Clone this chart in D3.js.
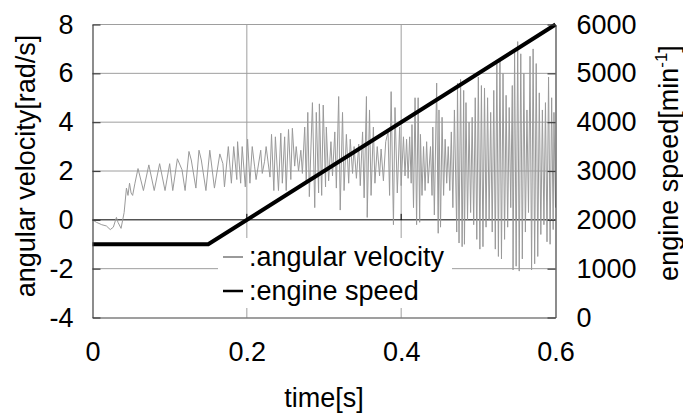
<!DOCTYPE html>
<html>
<head>
<meta charset="utf-8">
<script src="https://cdn.jsdelivr.net/npm/d3@7"></script>
<style>
  body { margin: 0; background: #fff; }
  text { font-family: "Liberation Sans", Arial, sans-serif; fill: #000; }
</style>
</head>
<body>
<svg id="chart" width="683" height="414"></svg>
<script>
// Axis ticks
const timeTicks = [0, 0.2, 0.4, 0.6];
const velocityTicks = [-4, -2, 0, 2, 4, 6, 8];
const speedTicks = [0, 1000, 2000, 3000, 4000, 5000, 6000];

// Engine speed ramp: time [s] and speed [min^-1]
const engineTime = [0, 0.15, 0.6];
const engineSpeed = [1500, 1500, 6000];

// Measured angular velocity: [time ms, rad/s]
const angularVelocity = [
  [0,0.0],[5,-0.1],[12,-0.2],[18,-0.25],[23,-0.4],[27,-0.3],[31,0.1],[33,-0.1],[37,-0.35],[41,0.3],
  [44,1.3],[46,1.0],[48,1.5],[50,1.1],[52,1.0],[55,1.5],[59,2.1],[66,1.2],[73,2.25],[80,1.2],
  [87,2.3],[94,1.2],[100,2.3],[104,1.2],[110,2.5],[116,2.05],[120,1.2],[125,2.8],[128,2.45],[134,1.3],
  [138,2.85],[141,2.45],[147,1.2],[152,2.85],[158,1.3],[165,2.7],[169,2.3],[171,1.35],[176,3.0],[180,1.5],
  [183,3.0],[187,1.65],[188,3.2],[192,1.5],[194,3.0],[198,1.35],[201,3.3],[204,1.5],[207,3.0],[210,2.2],
  [212,1.65],[218,2.85],[220,1.9],[223,2.4],[225,3.0],[230,1.75],[232,3.5],[235,1.2],[237,3.4],[241,1.2],
  [244,3.55],[246,1.5],[249,3.4],[251,1.2],[254,3.7],[257,1.65],[259,3.75],[262,2.2],[264,3.0],[267,2.0],
  [270,2.85],[272,1.9],[275,3.8],[277,1.5],[279,4.4],[281,0.95],[285,4.8],[288,0.5],[290,4.4],[293,1.1],
  [294,4.75],[297,1.0],[299,4.7],[302,1.35],[303,3.8],[306,1.6],[309,3.2],[311,1.8],[314,3.6],[316,1.3],
  [319,5.05],[321,0.4],[324,4.4],[326,1.2],[329,3.5],[332,1.5],[334,3.3],[337,1.9],[339,3.0],[342,1.7],
  [345,3.1],[347,1.4],[350,3.6],[352,0.9],[355,5.05],[356,0.1],[359,4.5],[361,1.0],[364,3.8],[366,1.5],
  [369,3.0],[372,1.8],[374,2.9],[377,1.6],[380,3.2],[383,3.6],[385,1.0],[387,5.25],[390,-0.2],[392,4.6],
  [395,1.1],[398,3.8],[400,1.4],[403,3.4],[405,1.8],[407,3.3],[409,1.7],[411,3.4],[413,1.5],[414,3.9],
  [416,0.5],[418,5.0],[420,-0.2],[422,5.0],[424,-0.1],[425,3.5],[427,1.0],[429,3.0],[431,1.2],[433,3.2],
  [435,1.5],[438,3.0],[440,1.0],[441,3.8],[443,0.2],[446,5.6],[448,-0.55],[449,4.5],[451,-0.3],[453,4.2],
  [455,1.0],[457,3.3],[459,1.5],[461,3.0],[463,1.2],[465,3.6],[467,0.5],[469,4.5],[472,-0.5],[473,5.6],
  [475,-0.95],[477,5.75],[479,-1.1],[481,5.3],[482,-1.0],[484,4.8],[486,0.0],[488,4.0],[490,0.3],[492,4.2],
  [494,-0.2],[496,5.0],[498,-0.8],[500,5.85],[502,-1.2],[504,5.5],[506,-1.1],[508,5.4],[510,-0.3],[512,5.0],
  [514,0.0],[516,4.4],[518,-0.5],[520,5.3],[522,-1.2],[524,6.4],[526,-1.5],[528,6.55],[530,-1.6],[532,6.0],
  [534,-0.8],[536,5.1],[538,-0.3],[540,4.6],[542,0.5],[544,5.5],[545,-2.05],[547,6.9],[549,-1.9],[551,7.3],
  [553,-2.1],[555,6.8],[557,-1.6],[559,6.0],[561,-0.5],[563,4.5],[565,0.3],[567,6.7],[569,-2.05],[571,7.0],
  [573,-1.8],[575,6.4],[577,-1.5],[579,5.2],[581,-0.6],[583,4.5],[585,-0.2],[587,4.8],[589,-0.9],[591,5.85],
  [593,-1.0],[595,5.0],[597,-0.4],[598,4.4],[600,0.5]
];

const svg = d3.select("#chart");
const plot = { left: 92.5, right: 555.5, top: 24.5, bottom: 317.5 };
const fontSize = 27;

const x = d3.scaleLinear().domain([0, 0.6]).range([plot.left, plot.right]);
const yVel = d3.scaleLinear().domain([-4, 8]).range([plot.bottom, plot.top]);
const ySpeed = d3.scaleLinear().domain([0, 6000]).range([plot.bottom, plot.top]);

const gridColor = "#9e9e9e";
const axisColor = "#404040";

// Gridlines
const grid = svg.append("g");
grid.selectAll("line.h").data(velocityTicks.filter(v => v !== 0 && v !== -4 && v !== 8))
  .join("line")
  .attr("x1", plot.left).attr("x2", plot.right)
  .attr("y1", d => yVel(d)).attr("y2", d => yVel(d))
  .attr("stroke", gridColor).attr("stroke-width", 1);
grid.selectAll("line.v").data(timeTicks.filter(t => t > 0 && t < 0.6))
  .join("line")
  .attr("x1", d => x(d)).attr("x2", d => x(d))
  .attr("y1", plot.top).attr("y2", plot.bottom)
  .attr("stroke", gridColor).attr("stroke-width", 1);
// top border
svg.append("line").attr("x1", plot.left).attr("x2", plot.right).attr("y1", plot.top).attr("y2", plot.top)
  .attr("stroke", gridColor).attr("stroke-width", 1);

// Legend background
const legendBox = { x: 218, y: 238, w: 234, h: 70 };
svg.append("rect")
  .attr("x", legendBox.x).attr("y", legendBox.y)
  .attr("width", legendBox.w).attr("height", legendBox.h)
  .attr("fill", "#fff");

// Zero line
svg.append("line").attr("x1", plot.left).attr("x2", plot.right)
  .attr("y1", yVel(0)).attr("y2", yVel(0))
  .attr("stroke", "#000").attr("stroke-width", 1);

// Angular velocity signal
const velLine = d3.line()
  .x(d => x(d[0] / 1000))
  .y(d => yVel(d[1]));
svg.append("path")
  .datum(angularVelocity)
  .attr("d", velLine)
  .attr("fill", "none")
  .attr("stroke", "#9a9a9a")
  .attr("stroke-width", 1)
  .attr("stroke-linejoin", "round");

// Engine speed
const speedLine = d3.line()
  .x((d, i) => x(engineTime[i]))
  .y(d => ySpeed(d));
svg.append("path")
  .datum(engineSpeed)
  .attr("d", speedLine)
  .attr("fill", "none")
  .attr("stroke", "#000")
  .attr("stroke-width", 4);

// Ticks on the zero line
svg.selectAll("line.zt").data(timeTicks.filter(t => t > 0 && t < 0.6))
  .join("line")
  .attr("x1", d => x(d)).attr("x2", d => x(d))
  .attr("y1", yVel(0) - 6).attr("y2", yVel(0))
  .attr("stroke", "#000");

// Axes
const axisL = svg.append("g")
  .attr("transform", `translate(${plot.left},0)`)
  .call(d3.axisLeft(yVel).tickValues(velocityTicks).tickFormat(d => String(d))
    .tickSize(-8).tickSizeOuter(0).tickPadding(19));
const axisR = svg.append("g")
  .attr("transform", `translate(${plot.right},0)`)
  .call(d3.axisRight(ySpeed).tickValues(speedTicks).tickFormat(d => String(d))
    .tickSize(-8).tickSizeOuter(0).tickPadding(21));
const axisB = svg.append("g")
  .attr("transform", `translate(0,${plot.bottom})`)
  .call(d3.axisBottom(x).tickValues(timeTicks).tickFormat(d => d === 0 ? "0" : d3.format(".1f")(d))
    .tickSize(0).tickSizeOuter(0).tickPadding(24));

[axisL, axisR, axisB].forEach(g => {
  g.select(".domain").attr("stroke", axisColor).attr("stroke-width", 1.2);
  g.selectAll(".tick line").attr("stroke", axisColor).attr("stroke-width", 1.2);
  g.selectAll("text").attr("font-size", fontSize).attr("font-family", null).attr("fill", "#000");
});

// Axis titles
svg.append("text")
  .attr("transform", "translate(35,166) rotate(-90)")
  .attr("text-anchor", "middle")
  .attr("font-size", fontSize)
  .text("angular velocity[rad/s]");

const rt = svg.append("text")
  .attr("transform", "translate(678,163) rotate(-90)")
  .attr("text-anchor", "middle")
  .attr("font-size", fontSize);
rt.append("tspan").text("engine speed[min");
rt.append("tspan").attr("font-size", 17).attr("dy", -11).text("-1");
rt.append("tspan").attr("dy", 11).text("]");

svg.append("text")
  .attr("x", (plot.left + plot.right) / 2).attr("y", 407)
  .attr("text-anchor", "middle")
  .attr("font-size", fontSize)
  .text("time[s]");

// Legend
const legendItems = [
  { label: "angular velocity", color: "#9a9a9a", width: 2, y: 257 },
  { label: "engine speed", color: "#000", width: 2.5, y: 291 }
];
const lg = svg.append("g");
legendItems.forEach(it => {
  lg.append("line")
    .attr("x1", 223).attr("x2", 243)
    .attr("y1", it.y).attr("y2", it.y)
    .attr("stroke", it.color).attr("stroke-width", it.width);
  lg.append("text")
    .attr("x", 249).attr("y", it.y + 9)
    .attr("font-size", fontSize)
    .text(":" + it.label);
});
</script>
</body>
</html>
